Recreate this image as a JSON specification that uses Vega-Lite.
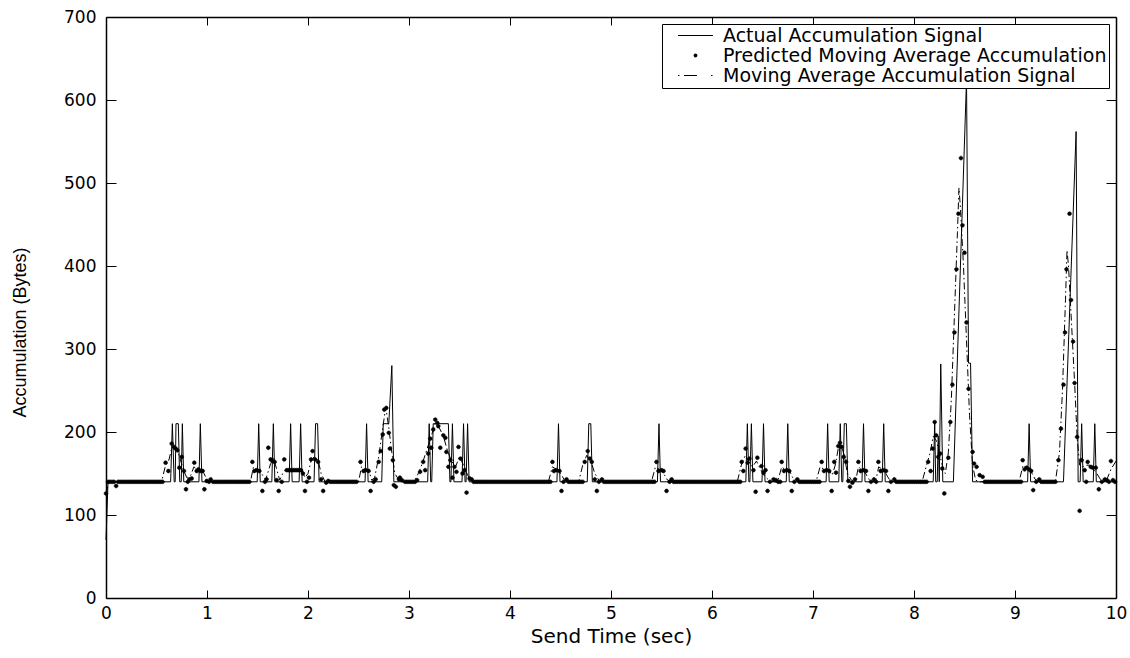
{
  "$schema": "https://vega.github.io/schema/vega-lite/v6.json",
  "width": 1010,
  "height": 581,
  "autosize": {"type": "none"},
  "padding": {"left": 106, "top": 17, "right": 14, "bottom": 60},
  "background": "white",
  "config": {
    "view": {"stroke": null},
    "axis": {
      "grid": false,
      "domainColor": "black",
      "domainWidth": 1.5,
      "tickColor": "black",
      "tickWidth": 1,
      "labelColor": "black",
      "labelFont": "DejaVu Sans",
      "labelFontSize": 17,
      "titleColor": "black",
      "titleFontWeight": "normal",
      "labelFlush": false,
      "labelOverlap": false
    }
  },
  "datasets": {
    "act": [
      {"t":0,"v":70},{"t":0.02,"v":140},
      {"t":0.64,"v":140},{"t":0.657,"v":210},{"t":0.675,"v":140},{"t":0.685,"v":140},{"t":0.693,"v":210},{"t":0.716,"v":210},{"t":0.73,"v":140},{"t":0.745,"v":140},{"t":0.756,"v":210},{"t":0.77,"v":140},
      {"t":0.92,"v":140},{"t":0.934,"v":210},{"t":0.95,"v":140},
      {"t":1.497,"v":140},{"t":1.512,"v":210},{"t":1.527,"v":140},
      {"t":1.642,"v":140},{"t":1.657,"v":210},{"t":1.672,"v":140},
      {"t":1.813,"v":140},{"t":1.828,"v":210},{"t":1.843,"v":140},
      {"t":1.912,"v":140},{"t":1.927,"v":210},{"t":1.942,"v":140},
      {"t":2.06,"v":140},{"t":2.075,"v":210},{"t":2.095,"v":210},{"t":2.11,"v":140},
      {"t":2.565,"v":140},{"t":2.58,"v":210},{"t":2.595,"v":140},
      {"t":2.73,"v":140},{"t":2.745,"v":210},{"t":2.80,"v":210},{"t":2.83,"v":280},{"t":2.85,"v":140},
      {"t":3.185,"v":140},{"t":3.20,"v":210},{"t":3.215,"v":140},
      {"t":3.225,"v":140},{"t":3.24,"v":210},{"t":3.39,"v":210},{"t":3.405,"v":140},
      {"t":3.415,"v":140},{"t":3.43,"v":210},{"t":3.445,"v":140},
      {"t":3.525,"v":140},{"t":3.54,"v":210},{"t":3.555,"v":140},
      {"t":3.565,"v":140},{"t":3.58,"v":210},{"t":3.595,"v":140},
      {"t":4.465,"v":140},{"t":4.48,"v":210},{"t":4.495,"v":140},
      {"t":4.765,"v":140},{"t":4.78,"v":210},{"t":4.80,"v":210},{"t":4.815,"v":140},
      {"t":5.46,"v":140},{"t":5.475,"v":210},{"t":5.49,"v":140},
      {"t":6.335,"v":140},{"t":6.35,"v":210},{"t":6.365,"v":140},
      {"t":6.375,"v":140},{"t":6.39,"v":210},{"t":6.405,"v":140},
      {"t":6.495,"v":140},{"t":6.51,"v":210},{"t":6.525,"v":140},
      {"t":6.735,"v":140},{"t":6.75,"v":210},{"t":6.765,"v":140},
      {"t":7.13,"v":140},{"t":7.145,"v":210},{"t":7.16,"v":140},
      {"t":7.255,"v":140},{"t":7.27,"v":210},{"t":7.285,"v":140},
      {"t":7.295,"v":140},{"t":7.31,"v":210},{"t":7.33,"v":210},{"t":7.345,"v":140},
      {"t":7.485,"v":140},{"t":7.50,"v":210},{"t":7.515,"v":140},
      {"t":7.685,"v":140},{"t":7.70,"v":210},{"t":7.715,"v":140},
      {"t":8.19,"v":140},{"t":8.205,"v":212},{"t":8.215,"v":140},{"t":8.23,"v":140},{"t":8.24,"v":195},{"t":8.25,"v":140},{"t":8.265,"v":282},{"t":8.285,"v":140},
      {"t":8.39,"v":140},{"t":8.52,"v":625},{"t":8.54,"v":283},{"t":8.56,"v":283},{"t":8.58,"v":140},
      {"t":9.125,"v":140},{"t":9.14,"v":210},{"t":9.155,"v":140},
      {"t":9.48,"v":140},{"t":9.605,"v":562},{"t":9.625,"v":140},
      {"t":9.645,"v":140},{"t":9.66,"v":210},{"t":9.675,"v":140},
      {"t":9.775,"v":140},{"t":9.79,"v":210},{"t":9.805,"v":140},
      {"t":10,"v":140}
    ],
    "ma": [
      {"t":0,"v":126},{"t":0.03,"v":140},
      {"t":0.55,"v":140},{"t":0.59,"v":160},{"t":0.62,"v":165},{"t":0.65,"v":180},{"t":0.68,"v":182},{"t":0.71,"v":178},{"t":0.74,"v":165},{"t":0.77,"v":153},{"t":0.80,"v":145},{"t":0.84,"v":148},{"t":0.87,"v":158},{"t":0.90,"v":155},{"t":0.94,"v":155},{"t":0.97,"v":150},{"t":1.0,"v":142},{"t":1.05,"v":140},
      {"t":1.43,"v":140},{"t":1.46,"v":158},{"t":1.49,"v":155},{"t":1.52,"v":155},{"t":1.55,"v":148},{"t":1.58,"v":142},{"t":1.60,"v":150},{"t":1.63,"v":162},{"t":1.66,"v":168},{"t":1.69,"v":155},{"t":1.72,"v":142},{"t":1.75,"v":150},{"t":1.78,"v":155},{"t":1.94,"v":155},{"t":1.97,"v":145},{"t":2.00,"v":150},{"t":2.03,"v":165},{"t":2.06,"v":170},{"t":2.10,"v":166},{"t":2.13,"v":150},{"t":2.17,"v":140},
      {"t":2.50,"v":140},{"t":2.53,"v":158},{"t":2.56,"v":155},{"t":2.60,"v":155},{"t":2.63,"v":142},{"t":2.66,"v":145},{"t":2.70,"v":170},{"t":2.74,"v":205},{"t":2.77,"v":230},{"t":2.80,"v":205},{"t":2.83,"v":175},{"t":2.86,"v":150},{"t":2.90,"v":142},{"t":2.95,"v":140},
      {"t":3.05,"v":140},{"t":3.10,"v":152},{"t":3.14,"v":165},{"t":3.18,"v":180},{"t":3.22,"v":195},{"t":3.26,"v":210},{"t":3.30,"v":205},{"t":3.34,"v":195},{"t":3.38,"v":178},{"t":3.42,"v":165},{"t":3.46,"v":158},{"t":3.50,"v":170},{"t":3.54,"v":160},{"t":3.58,"v":148},{"t":3.62,"v":142},{"t":3.66,"v":140},
      {"t":4.38,"v":140},{"t":4.42,"v":158},{"t":4.46,"v":155},{"t":4.50,"v":150},{"t":4.54,"v":142},{"t":4.58,"v":140},
      {"t":4.68,"v":140},{"t":4.72,"v":160},{"t":4.76,"v":172},{"t":4.80,"v":165},{"t":4.84,"v":150},{"t":4.88,"v":142},{"t":4.93,"v":140},
      {"t":5.40,"v":140},{"t":5.44,"v":158},{"t":5.48,"v":155},{"t":5.52,"v":150},{"t":5.56,"v":142},{"t":5.60,"v":140},
      {"t":6.25,"v":140},{"t":6.29,"v":160},{"t":6.33,"v":172},{"t":6.36,"v":165},{"t":6.40,"v":158},{"t":6.44,"v":165},{"t":6.48,"v":155},{"t":6.52,"v":147},{"t":6.57,"v":141},{"t":6.62,"v":140},
      {"t":6.65,"v":140},{"t":6.69,"v":158},{"t":6.72,"v":155},{"t":6.76,"v":155},{"t":6.80,"v":145},{"t":6.86,"v":140},
      {"t":7.03,"v":140},{"t":7.07,"v":158},{"t":7.11,"v":155},{"t":7.15,"v":155},{"t":7.19,"v":148},{"t":7.22,"v":160},{"t":7.25,"v":180},{"t":7.28,"v":183},{"t":7.31,"v":172},{"t":7.34,"v":150},{"t":7.38,"v":142},{"t":7.41,"v":140},
      {"t":7.42,"v":140},{"t":7.45,"v":158},{"t":7.48,"v":155},{"t":7.52,"v":150},{"t":7.56,"v":142},{"t":7.60,"v":140},
      {"t":7.62,"v":140},{"t":7.65,"v":158},{"t":7.69,"v":155},{"t":7.72,"v":150},{"t":7.76,"v":142},{"t":7.80,"v":140},
      {"t":8.08,"v":140},{"t":8.12,"v":158},{"t":8.16,"v":175},{"t":8.19,"v":195},{"t":8.22,"v":190},{"t":8.25,"v":175},{"t":8.28,"v":160},{"t":8.31,"v":150},{"t":8.34,"v":175},{"t":8.37,"v":240},{"t":8.40,"v":340},{"t":8.43,"v":440},{"t":8.445,"v":494},{"t":8.46,"v":470},{"t":8.49,"v":400},{"t":8.52,"v":310},{"t":8.55,"v":220},{"t":8.58,"v":160},{"t":8.61,"v":142},{"t":8.65,"v":140},
      {"t":9.04,"v":140},{"t":9.08,"v":160},{"t":9.12,"v":156},{"t":9.16,"v":152},{"t":9.20,"v":143},{"t":9.24,"v":140},
      {"t":9.40,"v":140},{"t":9.44,"v":175},{"t":9.47,"v":250},{"t":9.50,"v":360},{"t":9.515,"v":419},{"t":9.53,"v":400},{"t":9.56,"v":330},{"t":9.59,"v":260},{"t":9.615,"v":194},{"t":9.64,"v":160},{"t":9.67,"v":158},{"t":9.70,"v":160},{"t":9.74,"v":160},{"t":9.78,"v":155},{"t":9.81,"v":150},{"t":9.85,"v":142},{"t":9.90,"v":140},{"t":9.95,"v":155},{"t":10,"v":165}
    ],
    "pred": [
      {"t":0,"v":126},{"t":0.02,"v":140},{"t":0.04,"v":140},{"t":0.06,"v":140},{"t":0.08,"v":140},{"t":0.10,"v":135},{"t":0.12,"v":140},{"t":0.14,"v":140},{"t":0.16,"v":140},{"t":0.18,"v":140},{"t":0.20,"v":140},{"t":0.22,"v":140},{"t":0.24,"v":140},{"t":0.26,"v":140},{"t":0.28,"v":140},{"t":0.30,"v":140},{"t":0.32,"v":140},{"t":0.34,"v":140},{"t":0.36,"v":140},{"t":0.38,"v":140},{"t":0.40,"v":140},{"t":0.42,"v":140},{"t":0.44,"v":140},{"t":0.46,"v":140},{"t":0.48,"v":140},{"t":0.50,"v":140},{"t":0.52,"v":140},{"t":0.54,"v":140},
      {"t":0.56,"v":140},{"t":0.59,"v":163},{"t":0.617,"v":153},{"t":0.65,"v":186},{"t":0.673,"v":182},{"t":0.69,"v":180},{"t":0.706,"v":178},{"t":0.726,"v":157},{"t":0.75,"v":170},{"t":0.772,"v":153},{"t":0.792,"v":131},{"t":0.81,"v":140},{"t":0.825,"v":143},{"t":0.848,"v":144},{"t":0.874,"v":163},{"t":0.898,"v":153},{"t":0.915,"v":155},{"t":0.931,"v":153},{"t":0.957,"v":153},{"t":0.974,"v":131},{"t":0.997,"v":141},{"t":1.02,"v":140},{"t":1.036,"v":143},{"t":1.06,"v":140},
      {"t":1.08,"v":140},{"t":1.10,"v":140},{"t":1.12,"v":140},{"t":1.14,"v":140},{"t":1.16,"v":140},{"t":1.18,"v":140},{"t":1.20,"v":140},{"t":1.22,"v":140},{"t":1.24,"v":140},{"t":1.26,"v":140},{"t":1.28,"v":140},{"t":1.30,"v":140},{"t":1.32,"v":140},{"t":1.34,"v":140},{"t":1.36,"v":140},{"t":1.38,"v":140},{"t":1.40,"v":140},{"t":1.42,"v":140},
      {"t":1.449,"v":164},{"t":1.469,"v":153},{"t":1.492,"v":154},{"t":1.518,"v":153},{"t":1.548,"v":129},{"t":1.574,"v":140},{"t":1.59,"v":143},{"t":1.607,"v":181},{"t":1.63,"v":167},{"t":1.65,"v":165},{"t":1.67,"v":164},{"t":1.69,"v":142},{"t":1.71,"v":129},{"t":1.74,"v":140},{"t":1.765,"v":167},{"t":1.79,"v":154},{"t":1.81,"v":154},{"t":1.83,"v":154},{"t":1.85,"v":154},{"t":1.87,"v":154},{"t":1.89,"v":154},{"t":1.91,"v":154},{"t":1.93,"v":154},{"t":1.95,"v":150},{"t":1.97,"v":129},{"t":1.99,"v":140},{"t":2.01,"v":145},{"t":2.03,"v":167},{"t":2.045,"v":177},{"t":2.07,"v":167},{"t":2.10,"v":164},{"t":2.13,"v":143},{"t":2.15,"v":129},{"t":2.18,"v":139},{"t":2.20,"v":141},{"t":2.22,"v":140},
      {"t":2.24,"v":140},{"t":2.26,"v":140},{"t":2.28,"v":140},{"t":2.30,"v":140},{"t":2.32,"v":140},{"t":2.34,"v":140},{"t":2.36,"v":140},{"t":2.38,"v":140},{"t":2.40,"v":140},{"t":2.42,"v":140},{"t":2.44,"v":140},{"t":2.46,"v":140},{"t":2.48,"v":140},
      {"t":2.52,"v":164},{"t":2.55,"v":153},{"t":2.57,"v":154},{"t":2.60,"v":153},{"t":2.62,"v":129},{"t":2.65,"v":140},{"t":2.67,"v":143},{"t":2.70,"v":164},{"t":2.72,"v":177},{"t":2.74,"v":197},{"t":2.755,"v":227},{"t":2.775,"v":229},{"t":2.80,"v":199},{"t":2.81,"v":180},{"t":2.84,"v":166},{"t":2.85,"v":136},{"t":2.87,"v":134},{"t":2.90,"v":143},{"t":2.91,"v":145},{"t":2.93,"v":142},
      {"t":2.96,"v":140},{"t":2.98,"v":140},{"t":3.00,"v":140},{"t":3.02,"v":140},{"t":3.04,"v":140},{"t":3.06,"v":140},
      {"t":3.08,"v":142},{"t":3.11,"v":152},{"t":3.14,"v":164},{"t":3.16,"v":154},{"t":3.19,"v":174},{"t":3.21,"v":192},{"t":3.22,"v":181},{"t":3.24,"v":203},{"t":3.26,"v":215},{"t":3.28,"v":211},{"t":3.29,"v":207},{"t":3.31,"v":181},{"t":3.34,"v":196},{"t":3.36,"v":193},{"t":3.37,"v":176},{"t":3.39,"v":158},{"t":3.41,"v":166},{"t":3.43,"v":145},{"t":3.45,"v":158},{"t":3.47,"v":152},{"t":3.49,"v":182},{"t":3.51,"v":168},{"t":3.53,"v":150},{"t":3.55,"v":154},{"t":3.57,"v":127},{"t":3.60,"v":144},{"t":3.62,"v":143},
      {"t":3.64,"v":140},{"t":3.66,"v":140},{"t":3.68,"v":140},{"t":3.70,"v":140},{"t":3.72,"v":140},{"t":3.74,"v":140},{"t":3.76,"v":140},{"t":3.78,"v":140},{"t":3.80,"v":140},{"t":3.82,"v":140},{"t":3.84,"v":140},{"t":3.86,"v":140},{"t":3.88,"v":140},{"t":3.90,"v":140},{"t":3.92,"v":140},{"t":3.94,"v":140},{"t":3.96,"v":140},{"t":3.98,"v":140},{"t":4.00,"v":140},{"t":4.02,"v":140},{"t":4.04,"v":140},{"t":4.06,"v":140},{"t":4.08,"v":140},{"t":4.10,"v":140},{"t":4.12,"v":140},{"t":4.14,"v":140},{"t":4.16,"v":140},{"t":4.18,"v":140},{"t":4.20,"v":140},{"t":4.22,"v":140},{"t":4.24,"v":140},{"t":4.26,"v":140},{"t":4.28,"v":140},{"t":4.30,"v":140},{"t":4.32,"v":140},{"t":4.34,"v":140},{"t":4.36,"v":140},{"t":4.38,"v":140},{"t":4.40,"v":140},
      {"t":4.42,"v":164},{"t":4.435,"v":153},{"t":4.46,"v":154},{"t":4.49,"v":153},{"t":4.51,"v":129},{"t":4.53,"v":140},{"t":4.56,"v":143},
      {"t":4.58,"v":140},{"t":4.60,"v":140},{"t":4.62,"v":140},{"t":4.64,"v":140},{"t":4.66,"v":140},{"t":4.68,"v":140},{"t":4.70,"v":140},{"t":4.72,"v":140},
      {"t":4.74,"v":164},{"t":4.77,"v":177},{"t":4.79,"v":168},{"t":4.81,"v":164},{"t":4.84,"v":143},{"t":4.86,"v":129},{"t":4.88,"v":140},{"t":4.91,"v":143},
      {"t":4.93,"v":140},{"t":4.95,"v":140},{"t":4.97,"v":140},{"t":4.99,"v":140},{"t":5.01,"v":140},{"t":5.03,"v":140},{"t":5.05,"v":140},{"t":5.07,"v":140},{"t":5.09,"v":140},{"t":5.11,"v":140},{"t":5.13,"v":140},{"t":5.15,"v":140},{"t":5.17,"v":140},{"t":5.19,"v":140},{"t":5.21,"v":140},{"t":5.23,"v":140},{"t":5.25,"v":140},{"t":5.27,"v":140},{"t":5.29,"v":140},{"t":5.31,"v":140},{"t":5.33,"v":140},{"t":5.35,"v":140},{"t":5.37,"v":140},{"t":5.39,"v":140},{"t":5.41,"v":140},{"t":5.43,"v":140},
      {"t":5.45,"v":164},{"t":5.47,"v":153},{"t":5.50,"v":154},{"t":5.52,"v":153},{"t":5.55,"v":129},{"t":5.58,"v":140},{"t":5.60,"v":143},
      {"t":5.62,"v":140},{"t":5.64,"v":140},{"t":5.66,"v":140},{"t":5.68,"v":140},{"t":5.70,"v":140},{"t":5.72,"v":140},{"t":5.74,"v":140},{"t":5.76,"v":140},{"t":5.78,"v":140},{"t":5.80,"v":140},{"t":5.82,"v":140},{"t":5.84,"v":140},{"t":5.86,"v":140},{"t":5.88,"v":140},{"t":5.90,"v":140},{"t":5.92,"v":140},{"t":5.94,"v":140},{"t":5.96,"v":140},{"t":5.98,"v":140},{"t":6.00,"v":140},{"t":6.02,"v":140},{"t":6.04,"v":140},{"t":6.06,"v":140},{"t":6.08,"v":140},{"t":6.10,"v":140},{"t":6.12,"v":140},{"t":6.14,"v":140},{"t":6.16,"v":140},{"t":6.18,"v":140},{"t":6.20,"v":140},{"t":6.22,"v":140},{"t":6.24,"v":140},{"t":6.26,"v":140},{"t":6.28,"v":140},
      {"t":6.294,"v":164},{"t":6.31,"v":153},{"t":6.333,"v":180},{"t":6.353,"v":163},{"t":6.37,"v":168},{"t":6.41,"v":154},{"t":6.432,"v":128},{"t":6.449,"v":169},{"t":6.49,"v":159},{"t":6.51,"v":151},{"t":6.53,"v":154},{"t":6.55,"v":129},{"t":6.574,"v":140},{"t":6.61,"v":143},{"t":6.634,"v":142},
      {"t":6.655,"v":140},{"t":6.675,"v":140},
      {"t":6.69,"v":164},{"t":6.713,"v":153},{"t":6.74,"v":154},{"t":6.765,"v":153},{"t":6.79,"v":129},{"t":6.815,"v":140},{"t":6.845,"v":143},
      {"t":6.865,"v":140},{"t":6.885,"v":140},{"t":6.905,"v":140},{"t":6.925,"v":140},{"t":6.945,"v":140},{"t":6.965,"v":140},{"t":6.985,"v":140},{"t":7.005,"v":140},{"t":7.025,"v":140},{"t":7.045,"v":140},{"t":7.065,"v":140},
      {"t":7.086,"v":164},{"t":7.109,"v":153},{"t":7.135,"v":154},{"t":7.16,"v":153},{"t":7.185,"v":129},{"t":7.21,"v":164},{"t":7.228,"v":151},{"t":7.25,"v":183},{"t":7.267,"v":187},{"t":7.284,"v":182},{"t":7.305,"v":170},{"t":7.327,"v":164},{"t":7.35,"v":141},{"t":7.366,"v":134},{"t":7.39,"v":139},{"t":7.416,"v":143},
      {"t":7.449,"v":164},{"t":7.472,"v":153},{"t":7.498,"v":154},{"t":7.525,"v":153},{"t":7.548,"v":129},{"t":7.574,"v":140},{"t":7.604,"v":143},
      {"t":7.625,"v":140},
      {"t":7.647,"v":164},{"t":7.67,"v":153},{"t":7.696,"v":154},{"t":7.723,"v":153},{"t":7.746,"v":129},{"t":7.772,"v":140},{"t":7.805,"v":143},
      {"t":7.825,"v":140},{"t":7.845,"v":140},{"t":7.865,"v":140},{"t":7.885,"v":140},{"t":7.905,"v":140},{"t":7.925,"v":140},{"t":7.945,"v":140},{"t":7.965,"v":140},{"t":7.985,"v":140},{"t":8.005,"v":140},{"t":8.025,"v":140},{"t":8.045,"v":140},{"t":8.065,"v":140},{"t":8.085,"v":140},{"t":8.105,"v":140},{"t":8.125,"v":140},
      {"t":8.14,"v":164},{"t":8.165,"v":153},{"t":8.185,"v":180},{"t":8.205,"v":212},{"t":8.22,"v":196},{"t":8.24,"v":170},{"t":8.26,"v":174},{"t":8.28,"v":156},{"t":8.30,"v":126},{"t":8.34,"v":169},{"t":8.36,"v":212},{"t":8.38,"v":257},{"t":8.40,"v":320},{"t":8.42,"v":396},{"t":8.44,"v":463},{"t":8.465,"v":530},{"t":8.48,"v":449},{"t":8.50,"v":416},{"t":8.52,"v":332},{"t":8.54,"v":252},{"t":8.58,"v":176},{"t":8.595,"v":162},{"t":8.62,"v":158},{"t":8.65,"v":148},{"t":8.68,"v":146},
      {"t":8.70,"v":140},{"t":8.72,"v":140},{"t":8.74,"v":140},{"t":8.76,"v":140},{"t":8.78,"v":140},{"t":8.80,"v":140},{"t":8.82,"v":140},{"t":8.84,"v":140},{"t":8.86,"v":140},{"t":8.88,"v":140},{"t":8.90,"v":140},{"t":8.92,"v":140},{"t":8.94,"v":140},{"t":8.96,"v":140},{"t":8.98,"v":140},{"t":9.00,"v":140},{"t":9.02,"v":140},{"t":9.04,"v":140},{"t":9.06,"v":140},
      {"t":9.076,"v":166},{"t":9.095,"v":155},{"t":9.115,"v":157},{"t":9.14,"v":155},{"t":9.16,"v":153},{"t":9.18,"v":130},{"t":9.21,"v":140},{"t":9.24,"v":143},
      {"t":9.26,"v":140},{"t":9.28,"v":140},{"t":9.30,"v":140},{"t":9.32,"v":140},{"t":9.34,"v":140},{"t":9.36,"v":140},{"t":9.38,"v":140},{"t":9.40,"v":140},
      {"t":9.43,"v":166},{"t":9.455,"v":204},{"t":9.48,"v":257},{"t":9.495,"v":320},{"t":9.51,"v":396},{"t":9.54,"v":463},{"t":9.555,"v":359},{"t":9.575,"v":309},{"t":9.59,"v":259},{"t":9.615,"v":194},{"t":9.64,"v":105},{"t":9.66,"v":166},{"t":9.69,"v":154},{"t":9.705,"v":140},{"t":9.72,"v":164},{"t":9.75,"v":158},{"t":9.77,"v":157},{"t":9.80,"v":157},{"t":9.83,"v":131},{"t":9.86,"v":140},{"t":9.89,"v":143},{"t":9.91,"v":142},{"t":9.93,"v":140},{"t":9.95,"v":165},{"t":9.97,"v":142},{"t":9.99,"v":140}
    ]
  },
  "layer": [
    {
      "data": {"name": "act"},
      "mark": {"type": "line", "color": "black", "strokeWidth": 1},
      "encoding": {
        "x": {
          "field": "t", "type": "quantitative",
          "scale": {"domain": [0, 10], "nice": false, "zero": false},
          "axis": {
            "orient": "bottom",
            "values": [0, 1, 2, 3, 4, 5, 6, 7, 8, 9, 10],
            "title": "Send Time (sec)",
            "titleFont": "DejaVu Sans",
            "titleFontSize": 20,
            "titlePadding": 5,
            "tickSize": -8,
            "labelPadding": 15
          }
        },
        "y": {
          "field": "v", "type": "quantitative",
          "scale": {"domain": [0, 700], "nice": false, "zero": false},
          "axis": {
            "orient": "left",
            "values": [0, 100, 200, 300, 400, 500, 600, 700],
            "title": "Accumulation (Bytes)",
            "titleFont": "Liberation Sans",
            "titleFontSize": 18,
            "titleX": -86,
            "titleY": 315,
            "titleAngle": -90,
            "titleAlign": "center",
            "titleBaseline": "middle",
            "tickSize": -10,
            "labelPadding": 20
          }
        }
      }
    },
    {
      "data": {"name": "ma"},
      "mark": {"type": "line", "color": "black", "strokeWidth": 1, "strokeDash": [7, 3, 1.5, 3]},
      "encoding": {
        "x": {
          "field": "t", "type": "quantitative",
          "axis": {"orient": "top", "values": [0, 1, 2, 3, 4, 5, 6, 7, 8, 9, 10], "labels": false, "title": null, "tickSize": -8}
        },
        "y": {
          "field": "v", "type": "quantitative",
          "axis": {"orient": "right", "values": [0, 100, 200, 300, 400, 500, 600, 700], "labels": false, "title": null, "tickSize": -10}
        }
      }
    },
    {
      "data": {"name": "pred"},
      "mark": {"type": "point", "filled": true, "fill": "black", "stroke": "black", "strokeWidth": 0.6, "opacity": 1, "size": 100},
      "encoding": {
        "x": {"field": "t", "type": "quantitative", "axis": null},
        "y": {"field": "v", "type": "quantitative", "axis": null},
        "shape": {
          "datum": "Predicted Moving Average Accumulation",
          "type": "nominal",
          "scale": {
            "domain": ["Actual Accumulation Signal", "Predicted Moving Average Accumulation", "Moving Average Accumulation Signal"],
            "range": [
              "M-3.5,-0.1L3.5,-0.1L3.5,0.1L-3.5,0.1Z",
              "M-0.38,0A0.38,0.38 0 1,0 0.38,0A0.38,0.38 0 1,0 -0.38,0Z",
              "M-3.5,-0.1L-3.2,-0.1L-3.2,0.1L-3.5,0.1ZM-2.3,-0.1L0.3,-0.1L0.3,0.1L-2.3,0.1ZM3.1,-0.1L3.4,-0.1L3.4,0.1L3.1,0.1Z"
            ]
          },
          "legend": {
            "title": null,
            "orient": "top-right",
            "offset": 7,
            "fillColor": "white",
            "strokeColor": "black",
            "padding": 2,
            "labelFont": "DejaVu Sans",
            "labelFontSize": 19,
            "labelColor": "black",
            "labelLimit": 1000,
            "symbolSize": 100,
            "symbolOffset": 22,
            "labelOffset": 18,
            "rowPadding": 0,
            "symbolStrokeColor": "black",
            "symbolFillColor": "black",
            "symbolStrokeWidth": 1,
            "symbolOpacity": 1
          }
        }
      }
    }
  ],
  "resolve": {"axis": {"x": "independent", "y": "independent"}}
}
